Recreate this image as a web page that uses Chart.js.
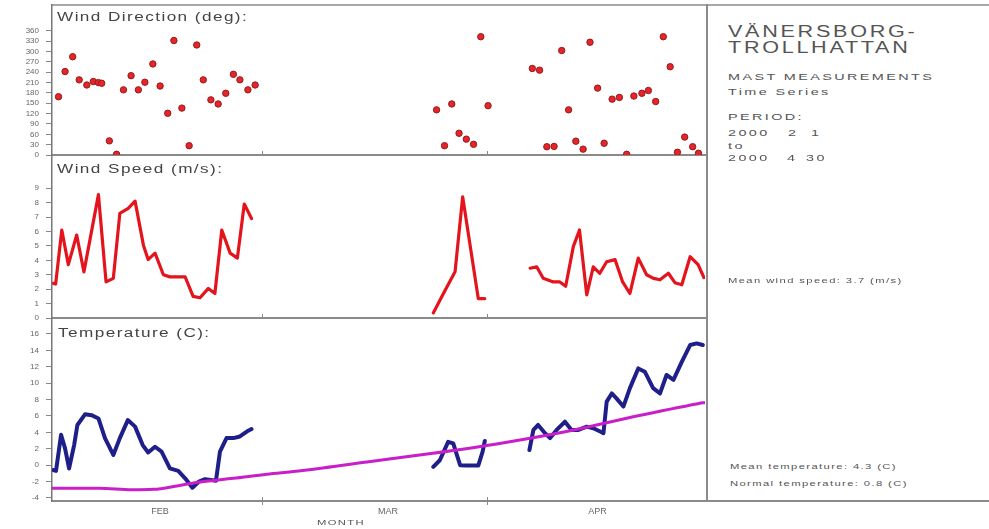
<!DOCTYPE html>
<html>
<head>
<meta charset="utf-8">
<script src="https://cdn.jsdelivr.net/npm/chart.js@4.4.1/dist/chart.umd.min.js"></script>
<style>
  body { margin: 0; background: #fff; width: 989px; height: 529px; overflow: hidden; position: relative;
         font-family: "Liberation Sans", Arial, sans-serif; color: #555; }
  canvas { position: absolute; left: 0; }
  .t { position: absolute; white-space: nowrap; line-height: 1; transform-origin: 0 50%; }
  .ptitle { font-size: 12px; letter-spacing: 1px; transform: scaleX(1.43); color: #444; }
  .big { font-size: 16px; letter-spacing: 2px; transform: scaleX(1.35); color: #555; }
  .mid { font-size: 9px; letter-spacing: 1.5px; transform: scaleX(1.6); color: #555; }
  .small { font-size: 8px; letter-spacing: 1px; transform: scaleX(1.4); color: #555; }
  .line { position: absolute; background: #a8a8a8; }
</style>
</head>
<body>

<div class="line" style="left:52px;top:4px;width:937px;height:2px"></div>
<div class="line" style="left:52px;top:154px;width:655px;height:2px;background:#8a8a8a"></div>
<div class="line" style="left:52px;top:317px;width:655px;height:2px;background:#8a8a8a"></div>
<div class="line" style="left:705px;top:500px;width:284px;height:2px;background:#8a8a8a"></div>
<div class="line" style="left:706px;top:4px;width:2px;height:498px;background:#8a8a8a"></div>

<canvas id="dirChart" width="720" height="165" style="top:0"></canvas>
<canvas id="spdChart" width="720" height="178" style="top:150px"></canvas>
<canvas id="tmpChart" width="720" height="216" style="top:313px"></canvas>

<div class="t ptitle" style="left:57px;top:11px">Wind Direction (deg):</div>
<div class="t ptitle" style="left:57px;top:163px">Wind Speed (m/s):</div>
<div class="t ptitle" style="left:58px;top:327px">Temperature (C):</div>
<div class="t small" style="left:317px;top:519px">MONTH</div>

<div class="t big" style="left:728px;top:24px">VÄNERSBORG-</div>
<div class="t big" style="left:728px;top:40px">TROLLHATTAN</div>
<div class="t mid" style="left:728px;top:73px">MAST MEASUREMENTS</div>
<div class="t mid" style="left:728px;top:88px">Time Series</div>
<div class="t mid" style="left:728px;top:113px">PERIOD:</div>
<div class="t mid" style="left:728px;top:129px">2000</div>
<div class="t mid" style="left:788px;top:129px">2</div>
<div class="t mid" style="left:811px;top:129px">1</div>
<div class="t mid" style="left:728px;top:142px">to</div>
<div class="t mid" style="left:728px;top:154px">2000</div>
<div class="t mid" style="left:787px;top:154px">4</div>
<div class="t mid" style="left:806px;top:154px">30</div>
<div class="t small" style="left:728px;top:277px">Mean wind speed:  3.7 (m/s)</div>
<div class="t small" style="left:730px;top:463px">Mean temperature:  4.3 (C)</div>
<div class="t small" style="left:730px;top:480px">Normal temperature:  0.8 (C)</div>

<script>
// days counted from 2000-02-01 00:00
const monthLabels = ['FEB', 'MAR', 'APR'];
const monthLabelDays = [14.9, 46.3, 75.2];
const monthBounds = [29, 60];

const dirTicks = [0, 30, 60, 90, 120, 150, 180, 210, 240, 270, 300, 330, 360];
const spdTicks = [0, 1, 2, 3, 4, 5, 6, 7, 8, 9];
const tmpTicks = [-4, -2, 0, 2, 4, 6, 8, 10, 12, 14, 16];

const dirDays = [0.9, 1.8, 2.85, 3.75, 4.8, 5.7, 6.4, 6.85, 7.9, 8.9, 9.85, 10.9, 11.9, 12.8, 13.9, 14.9,
  15.95, 16.8, 17.9, 18.9, 19.95, 20.85, 21.9, 22.9, 23.95, 25.0, 25.9, 27.0, 28.0,
  53.0, 54.1, 55.1, 56.1, 57.1, 58.1, 59.1, 60.1,
  66.2, 67.2, 68.2, 69.2, 70.25, 71.2, 72.2, 73.2, 74.15, 75.2, 76.1, 77.2, 78.2, 79.2, 80.2, 81.3,
  82.2, 83.2, 84.25, 85.2, 86.2, 87.2, 88.3, 89.1];
const dirValues = [169, 242, 285, 218, 203, 213, 210, 208, 41, 2, 189, 230, 189, 211, 264, 200,
  121, 332, 136, 27, 319, 218, 160, 148, 179, 234, 218, 189, 203,
  131, 27, 148, 63, 46, 31, 343, 143,
  251, 246, 24, 25, 303, 131, 40, 17, 327, 194, 34, 162, 167, 2, 171, 179,
  187, 155, 343, 256, 8, 52, 24, 5];

const spdDays = [0.2, 0.5, 1.35, 2.25, 3.4, 4.4, 6.4, 7.45, 8.45, 9.35, 10.5, 11.45, 12.6, 13.25, 14.2,
  15.35, 16.25, 17.4, 18.35, 19.45, 20.4, 21.55, 22.45, 23.4, 24.55, 25.55, 26.5, 27.5,
  40,
  52.55, 53.95, 55.55, 56.6, 58.75, 59.65,
  63,
  65.9, 66.8, 67.7, 69.1, 70.0, 70.8, 71.85, 72.7, 73.7, 74.6, 75.5, 76.45, 77.6, 78.65, 79.65,
  80.8, 81.95, 82.9, 83.8, 84.95, 85.85, 86.8, 87.95, 89.05, 89.85];
const spdValues = [2.4, 2.35, 6.1, 3.7, 5.75, 3.2, 8.55, 2.5, 2.75, 7.25, 7.6, 8.1, 5.05, 4.05, 4.5,
  3.0, 2.85, 2.85, 2.85, 1.5, 1.4, 2.05, 1.7, 6.1, 4.5, 4.15, 7.9, 6.9,
  null,
  0.35, 1.7, 3.2, 8.4, 1.35, 1.35,
  null,
  3.45, 3.55, 2.75, 2.5, 2.5, 2.2, 4.95, 6.1, 1.6, 3.55, 3.1, 3.9, 4.05, 2.5, 1.7,
  4.15, 3.0, 2.75, 2.65, 3.1, 2.45, 2.3, 4.25, 3.7, 2.8];

const tmpDays = [0.2, 0.55, 1.25, 1.8, 2.35, 3.05, 3.5, 4.55, 5.45, 6.4, 7.3, 8.45, 9.35, 10.45, 11.45,
  12.5, 13.25, 14.2, 15.1, 16.25, 17.4, 18.35, 19.35, 20.25, 21.1, 22.6, 23.15, 24.05, 25.0, 25.9,
  26.85, 27.5,
  40,
  52.55, 53.45, 54.6, 55.3, 56.25, 57.15, 58.75, 59.35, 59.65,
  63,
  65.8, 66.35, 67.0, 67.95, 68.65, 69.55, 70.7, 71.6, 72.55, 73.7, 74.6, 75.55, 76.0, 76.45, 77.15,
  77.8, 78.75, 79.65, 80.8, 81.7, 82.85, 83.8, 84.7, 85.65, 86.8, 87.95, 88.85, 89.7];
const tmpValues = [-0.6, -0.7, 3.7, 2.05, -0.4, 2.45, 4.9, 6.2, 6.1, 5.7, 3.3, 1.25, 3.3, 5.5, 4.7,
  2.45, 1.55, 2.25, 1.65, -0.4, -0.7, -1.6, -2.75, -2.0, -1.7, -1.9, 1.65, 3.3, 3.3, 3.5,
  4.1, 4.4,
  null,
  -0.2, 0.6, 2.85, 2.65, 0.0, -0.05, -0.05, 1.65, 2.95,
  null,
  1.85, 4.3, 4.9, 3.9, 3.3, 4.3, 5.3, 4.3, 4.3, 4.7, 4.5, 4.1, 3.9, 7.75, 8.75,
  8.15, 7.15, 9.4, 11.8, 11.4, 9.4, 8.75, 11.0, 10.4, 12.6, 14.65, 14.85, 14.65];

const nrmDays = [0, 6.5, 11, 14, 17.4, 20.4, 25, 29.6, 34, 43.4, 52.5, 61.7, 70.9, 80.1, 89, 90];
const nrmValues = [-2.8, -2.8, -3.0, -2.95, -2.5, -2.05, -1.6, -1.1, -0.7, 0.4, 1.45, 2.65, 4.1, 5.9, 7.5, 7.65];

const pts = (days, vals) => days.map((d, i) => ({ x: d, y: vals[i] }));

const boundaryTicks = {
  id: 'boundaryTicks',
  afterDraw(chart, args, opts) {
    const { ctx, chartArea, scales: { x } } = chart;
    ctx.save();
    ctx.strokeStyle = '#888';
    ctx.lineWidth = 1;
    monthBounds.forEach(d => {
      const px = Math.round(x.getPixelForValue(d)) + 0.5;
      ctx.beginPath();
      ctx.moveTo(px, chartArea.bottom - 4);
      ctx.lineTo(px, chartArea.bottom + (opts.down || 0));
      ctx.stroke();
    });
    ctx.restore();
  }
};

function yScale(min, max, ticks) {
  return {
    min, max,
    afterBuildTicks: s => { s.ticks = ticks.map(v => ({ value: v })); },
    afterFit: s => { s.width = 52; s.paddingTop = 0; s.paddingBottom = 0; },
    grid: { drawOnChartArea: false, drawTicks: true, tickLength: 6, color: '#888' },
    border: { display: true, color: '#777', width: 1.5 },
    ticks: { autoSkip: false, font: { family: 'Liberation Sans', size: 8 }, color: '#666', padding: 7 }
  };
}

function baseOptions(y, x, padding, down) {
  return {
    responsive: false,
    animation: false,
    devicePixelRatio: 1,
    layout: { padding },
    plugins: { legend: { display: false }, tooltip: { enabled: false }, boundaryTicks: { down } },
    scales: { x, y }
  };
}

const hiddenX = { type: 'linear', min: 0, max: 90, display: false };

new Chart(document.getElementById('dirChart'), {
  type: 'scatter',
  data: { datasets: [{
    data: pts(dirDays, dirValues),
    pointRadius: 3.2,
    backgroundColor: '#e3262b',
    borderColor: '#9a1818',
    borderWidth: 1
  }] },
  options: baseOptions(yScale(0, 435, dirTicks), hiddenX, { top: 5, bottom: 10, left: 0, right: 15 }, 0),
  plugins: [boundaryTicks]
});

new Chart(document.getElementById('spdChart'), {
  type: 'line',
  data: { datasets: [{
    data: pts(spdDays, spdValues),
    borderColor: '#e4141c',
    borderWidth: 3.2,
    pointRadius: 0,
    spanGaps: false,
    borderJoinStyle: 'round',
    borderCapStyle: 'round'
  }] },
  options: baseOptions(yScale(0, 11.3, spdTicks), hiddenX, { top: 5, bottom: 10, left: 0, right: 15 }, 0),
  plugins: [boundaryTicks]
});

new Chart(document.getElementById('tmpChart'), {
  type: 'line',
  data: { datasets: [
    {
      data: pts(nrmDays, nrmValues),
      borderColor: '#c81fc8',
      borderWidth: 3,
      pointRadius: 0,
      tension: 0.4,
      cubicInterpolationMode: 'monotone'
    },
    {
      data: pts(tmpDays, tmpValues),
      borderColor: '#1f1f8a',
      borderWidth: 4,
      pointRadius: 0,
      spanGaps: false,
      borderJoinStyle: 'round',
      borderCapStyle: 'round'
    }
  ] },
  options: baseOptions(yScale(-4.37, 17.95, tmpTicks), {
    type: 'linear', min: 0, max: 90,
    afterBuildTicks: s => { s.ticks = monthLabelDays.map(v => ({ value: v })); },
    afterFit: s => { s.height = 28; s.paddingLeft = 0; s.paddingRight = 0; },
    grid: { display: false, drawTicks: false },
    border: { display: true, color: '#8a8a8a', width: 2 },
    ticks: {
      autoSkip: false, maxRotation: 0, padding: 5,
      font: { family: 'Liberation Sans', size: 9 }, color: '#666',
      callback: (v, i) => monthLabels[i]
    }
  }, { top: 5, bottom: 0, left: 0, right: 15 }, 4),
  plugins: [boundaryTicks]
});
</script>
</body>
</html>
